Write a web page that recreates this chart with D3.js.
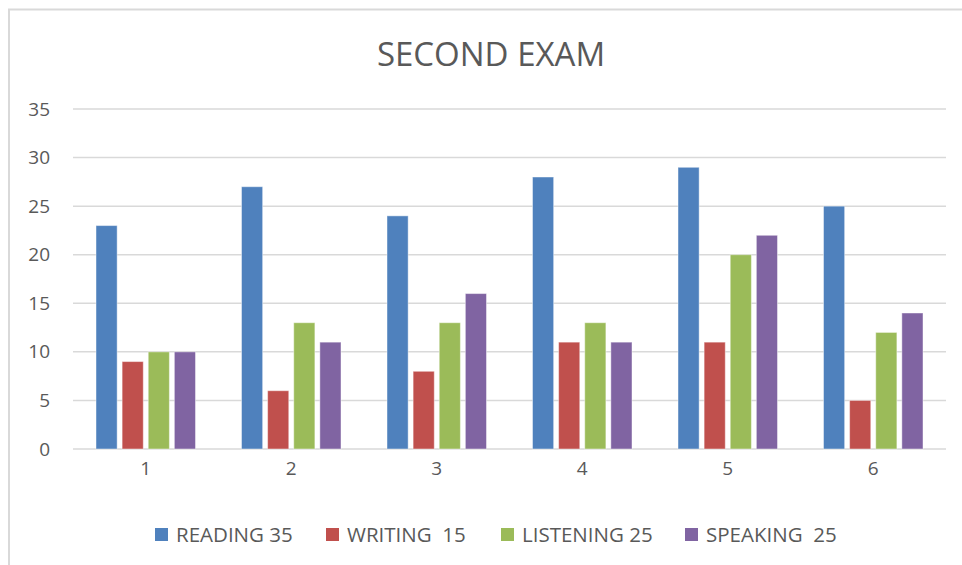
<!DOCTYPE html>
<html>
<head>
<meta charset="utf-8">
<script src="https://cdn.jsdelivr.net/npm/d3@7"></script>
<style>
  html, body { margin: 0; padding: 0; background: #fff; }
  svg { display: block; }
  text { font-family: "Open Sans", sans-serif; fill: #595959; }
</style>
</head>
<body>
<svg id="chart" width="962" height="565"></svg>
<script>
const categories = ["1", "2", "3", "4", "5", "6"];
const seriesNames = ["READING 35", "WRITING  15", "LISTENING 25", "SPEAKING  25"];
const reading   = [23, 27, 24, 28, 29, 25];
const writing   = [9, 6, 8, 11, 11, 5];
const listening = [10, 13, 13, 13, 20, 12];
const speaking  = [10, 11, 16, 11, 22, 14];
const yTicks = [0, 5, 10, 15, 20, 25, 30, 35];
const colors = ["#4F81BD", "#C0504D", "#9BBB59", "#8064A2"];
const chartTitle = "SECOND EXAM";

const seriesValues = [reading, writing, listening, speaking];

const svg = d3.select("#chart");

// chart border (top and left visible)
svg.append("path")
  .attr("d", "M9,565 L9,9.5 L962,9.5")
  .attr("fill", "none").attr("stroke", "#D9D9D9").attr("stroke-width", 2);

const pLeft = 73, pRight = 946, pTop = 109, pBottom = 449;

const x = d3.scaleBand().domain(categories).range([pLeft, pRight]).paddingInner(0).paddingOuter(0);
const y = d3.scaleLinear().domain([0, 35]).range([pBottom, pTop]);
const xs = d3.scaleBand().domain(d3.range(seriesNames.length))
  .range([23, x.bandwidth() - 23]).paddingInner(0.19).paddingOuter(0);

// gridlines
svg.append("g").selectAll("line").data(yTicks).join("line")
  .attr("x1", pLeft).attr("x2", pRight)
  .attr("y1", d => y(d)).attr("y2", d => y(d))
  .attr("stroke", "#D9D9D9").attr("stroke-width", 1.5);

// y axis labels
const yAxis = d3.axisLeft(y).tickValues(yTicks).tickSize(0).tickPadding(0);
const gy = svg.append("g").attr("transform", `translate(50,0)`).call(yAxis);
gy.select(".domain").remove();
gy.selectAll("text").attr("font-size", 19).attr("fill", "#595959")
  .style("font-family", '"Open Sans", sans-serif');

// bars
const groups = svg.append("g").selectAll("g").data(categories).join("g")
  .attr("transform", d => `translate(${x(d)},0)`);
groups.selectAll("rect").data((c, i) => seriesValues.map((s, k) => ({k, v: s[i]}))).join("rect")
  .attr("x", d => xs(d.k))
  .attr("width", xs.bandwidth())
  .attr("y", d => y(d.v))
  .attr("height", d => y(0) - y(d.v))
  .attr("fill", d => colors[d.k])
  .attr("stroke", "rgba(255,255,255,0.45)")
  .attr("stroke-width", 1);

// x axis labels
const xAxis = d3.axisBottom(x).tickSize(0).tickPadding(0);
const gx = svg.append("g").attr("transform", `translate(0,${pBottom + 12})`).call(xAxis);
gx.select(".domain").remove();
gx.selectAll("text").attr("font-size", 19).attr("fill", "#595959").attr("dy", "0.75em")
  .style("font-family", '"Open Sans", sans-serif');

// title
svg.append("text").attr("x", 491).attr("y", 66).attr("text-anchor", "middle")
  .attr("font-size", 33).text(chartTitle);

// legend
const legendX = [155, 326, 501, 685];
const lg = svg.append("g").selectAll("g").data(seriesNames).join("g")
  .attr("transform", (d, i) => `translate(${legendX[i]},528)`);
lg.append("rect").attr("width", 13).attr("height", 13).attr("fill", (d, i) => colors[i]);
lg.append("text").attr("x", 21).attr("y", 14).attr("font-size", 20.5)
  .style("white-space", "pre").attr("xml:space", "preserve").text(d => d);
</script>
</body>
</html>
